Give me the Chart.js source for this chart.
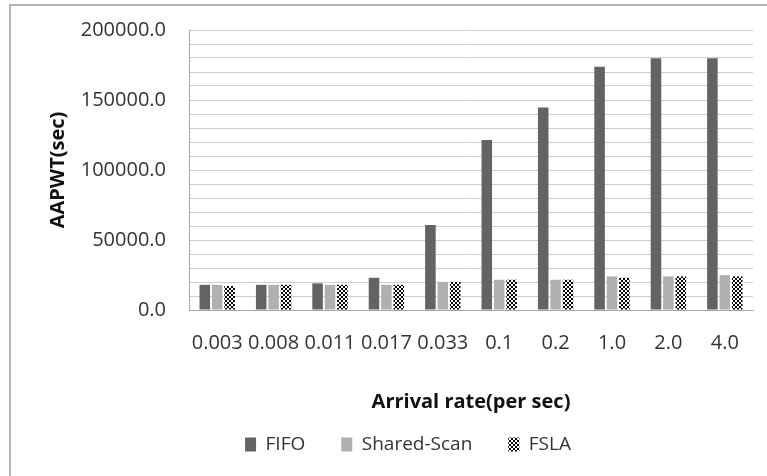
<!DOCTYPE html>
<html>
<head>
<meta charset="utf-8">
<script src="https://cdn.jsdelivr.net/npm/chart.js@4/dist/chart.umd.min.js"></script>
<style>
  body { margin: 0; background: #fff; }
  #frame {
    position: absolute; left: 9px; top: 4px;
    width: 758px; height: 472px;
    border-left: 2px solid #b4b4b4; border-top: 2px solid #b4b4b4;
  }
  #wrap { position: absolute; left: 0; top: 0; width: 756px; height: 470px; }
</style>
</head>
<body>
<div id="frame"><div id="wrap"><canvas id="chart"></canvas></div></div>
<script>
// Werte
const rates = ['0.003', '0.008', '0.011', '0.017', '0.033', '0.1', '0.2', '1.0', '2.0', '4.0'];
const fifo = [18000, 18000, 19000, 23000, 60700, 121500, 144700, 173700, 179900, 179900];
const sharedScan = [18000, 18000, 18000, 18000, 20100, 21600, 21600, 24000, 24000, 24900];
const fsla = [17100, 18000, 18000, 18000, 20100, 21600, 21600, 23000, 24000, 24000];
const yTicks = [0, 50000, 100000, 150000, 200000];

const FONT = '"Open Sans", "DejaVu Sans", sans-serif';

// Schachbrettmuster für FSLA
function checkerPattern() {
    const c = document.createElement('canvas');
    c.width = 4; c.height = 4;
    const g = c.getContext('2d');
    g.fillStyle = '#fff';
    g.fillRect(0, 0, 4, 4);
    g.fillStyle = '#000';
    g.fillRect(0, 0, 2, 2);
    g.fillRect(2, 2, 2, 2);
    return g.createPattern(c, 'repeat');
}

// Legende: feste Höhe und Position wie im Original
const legendTweak = {
    id: 'legendTweak',
    beforeLayout(chart) {
        const lg = chart.legend;
        if (lg && !lg._tweaked) {
            const fit = lg.fit;
            lg.fit = function () { fit.call(this); this.height = 62; };
            lg._tweaked = true;
        }
    },
    afterLayout(chart) {
        const lg = chart.legend;
        lg.left += 11;
        lg.right += 11;
        lg.top -= 15;
        lg.bottom -= 15;
    }
};

const ctx = document.getElementById('chart').getContext('2d');
new Chart(ctx, {
    type: 'bar',
    data: {
        labels: rates,
        datasets: [
            { label: 'FIFO', data: fifo, backgroundColor: '#636363' },
            { label: 'Shared-Scan', data: sharedScan, backgroundColor: '#b0b0b0' },
            { label: 'FSLA', data: fsla, backgroundColor: checkerPattern() }
        ]
    },
    options: {
        responsive: true,
        maintainAspectRatio: false,
        animation: false,
        datasets: { bar: { categoryPercentage: 0.66, barPercentage: 0.85 } },
        layout: { padding: { left: 30, right: 14, top: 24, bottom: 0 } },
        plugins: {
            tooltip: { enabled: false },
            legend: {
                position: 'bottom',
                labels: {
                    font: { family: FONT, size: 19 },
                    color: '#333',
                    boxWidth: 11,
                    boxHeight: 14,
                    padding: 36
                }
            }
        },
        scales: {
            x: {
                grid: { display: false },
                border: { color: '#a6a6a6', width: 1 },
                ticks: {
                    font: { family: FONT, size: 20 },
                    color: '#333',
                    autoSkip: false,
                    maxRotation: 0,
                    padding: 13
                },
                title: {
                    display: true,
                    text: 'Arrival rate(per sec)',
                    font: { family: FONT, size: 20, weight: 'bold' },
                    color: '#111',
                    padding: { top: 22, bottom: 0 }
                }
            },
            y: {
                min: 0,
                max: 200000,
                afterFit(scale) {
                    scale.width = 148;
                    scale.paddingTop = 0;
                    scale.paddingBottom = 0;
                },
                grid: { color: '#cccccc', drawTicks: false },
                border: { color: '#a6a6a6', width: 1 },
                ticks: {
                    stepSize: 10000,
                    maxTicksLimit: 25,
                    autoSkip: false,
                    font: { family: FONT, size: 20 },
                    color: '#333',
                    padding: 23,
                    callback: v => yTicks.includes(v) ? v.toFixed(1) : ''
                },
                title: {
                    display: true,
                    text: 'AAPWT(sec)',
                    font: { family: FONT, size: 20, weight: 'bold' },
                    color: '#111',
                    padding: { top: 5, bottom: 0 }
                }
            }
        }
    },
    plugins: [legendTweak]
});
</script>
</body>
</html>
